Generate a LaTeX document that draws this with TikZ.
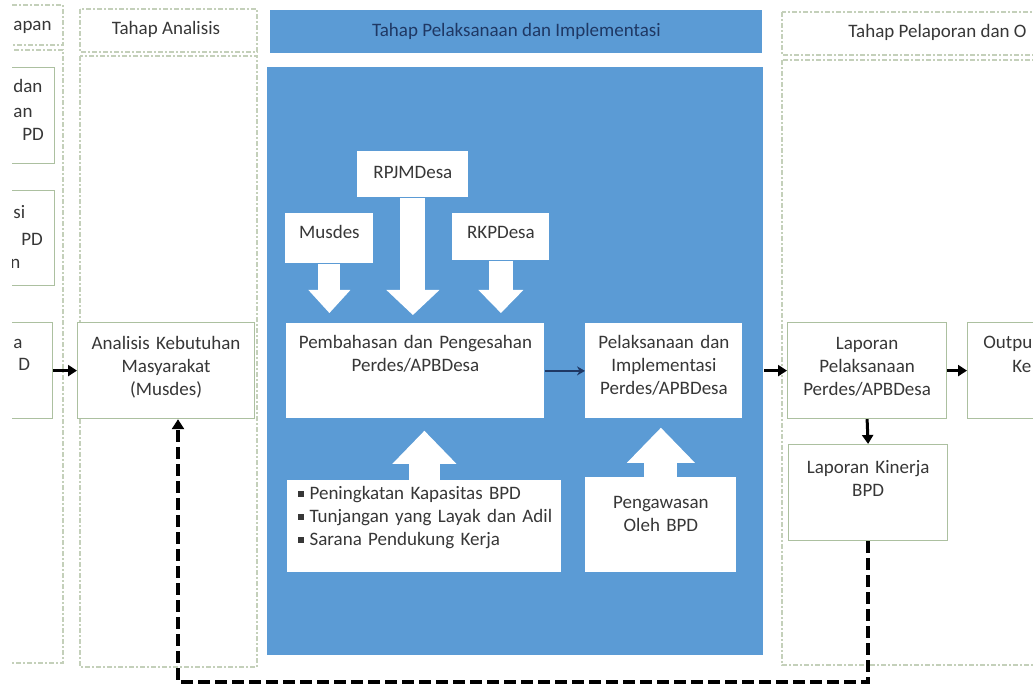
\documentclass[tikz,border=0pt]{standalone}
\usepackage{fontspec}
\setmainfont{Carlito}
\usepackage{tikz}
\usetikzlibrary{arrows.meta, positioning}
\definecolor{BB}{RGB}{91, 155, 213}
\definecolor{NN}{RGB}{31, 56, 100}
\definecolor{TT}{RGB}{55, 55, 55}
\definecolor{GG}{RGB}{172, 192, 160}
\definecolor{FF}{RGB}{196, 208, 186}
\newcommand{\sqbul}{\rule[1.4pt]{2.6pt}{2.6pt}\hspace{3pt}}
\tikzset{
    colframe/.style={draw=FF, line width=0.6pt, dash pattern=on 2.5pt off 1.2pt on 0.6pt off 1.2pt},
    sidebox/.style={rectangle, draw=GG, line width=0.6pt, fill=white, inner sep=0pt, text=TT, align=center},
    whitebox/.style={rectangle, fill=white, inner sep=0pt, text=TT, align=center},
    frag/.style={inner sep=0pt, text=TT, anchor=base west},
    fatarrow/.style n args={3}{draw=white, line width=#1, -{Triangle[width=#2, length=#3, line width=0pt]}},
    flowarrow/.style={line width=1.5pt, -{Triangle[width=5.5pt, length=4.5pt]}},
    thinarrow/.style={draw=NN, line width=0.8pt, -{Stealth[width=4.5pt, length=4pt]}},
    feedback/.style={line width=2pt, dash pattern=on 6pt off 2.5pt, -{Triangle[width=6pt, length=5pt]}},
}

\begin{document}
\begin{tikzpicture}[x=0.5pt, y=-0.5pt, font=\fontsize{9.5}{11.5}\selectfont]
\useasboundingbox (0,0) rectangle (1033,689);
\clip (12,0) rectangle (1033,689);

% kolom tahap
\draw[colframe] (-20,5) rectangle (63,45);
\draw[colframe] (-20,50) rectangle (63,663);
\draw[colframe] (80,9) rectangle (257,52);
\draw[colframe] (80,56) rectangle (257,667);
\draw[colframe] (782,12) rectangle (1060,55);
\draw[colframe] (782,60) rectangle (1060,665);

\node[frag] (prephead) at (13,31) {apan};
\node[text=TT, inner sep=0pt] (anahead) at (166,29) {Tahap Analisis};
\node[frag] (lapohead) at (848,38) {Tahap Pelaporan dan O};

% tahap pelaksanaan (biru)
\node[fill=BB, minimum width=246pt, minimum height=21.5pt, anchor=north west, inner sep=0pt, text=NN] (implhead) at (270,10) {Tahap Pelaksanaan dan Implementasi};
\node[fill=BB, minimum width=248pt, minimum height=294pt, anchor=north west, inner sep=0pt] (implbody) at (267,67) {};

% kolom kiri (terpotong)
\node[sidebox, minimum width=50pt, minimum height=48pt, anchor=north east] (lbox1) at (55,67) {};
\node[frag] (lbox1a) at (13,93) {dan};
\node[frag] (lbox1b) at (13,118) {an};
\node[frag] (lbox1c) at (22,141) {PD};
\node[sidebox, minimum width=50pt, minimum height=47.5pt, anchor=north east] (lbox2) at (55,190) {};
\node[frag] (lbox2a) at (13,219) {si};
\node[frag] (lbox2b) at (21,246) {PD};
\node[frag] (lbox2c) at (10,269) {n};
\node[sidebox, minimum width=50pt, minimum height=48pt, anchor=north east] (lbox3) at (53,322) {};
\node[frag] (lbox3a) at (13,349) {a};
\node[frag] (lbox3b) at (18,371) {D};

% analisis
\node[sidebox, text width=88.5pt, text height=13.5pt, text depth=34.5pt, anchor=north west] (analisis) at (77,322) {Analisis Kebutuhan\\Masyarakat\\(Musdes)};

% isi kotak biru
\node[whitebox, text height=13.5pt, text depth=9.5pt, minimum width=55.5pt, anchor=north west] (rpjm) at (357,151) {RPJMDesa};
\node[whitebox, text height=12.5pt, text depth=12.5pt, minimum width=44pt, anchor=north west] (musdes) at (285,213) {Musdes};
\node[whitebox, text height=12.5pt, text depth=11pt, minimum width=48.5pt, anchor=north west] (rkp) at (452,213) {RKPDesa};
\node[whitebox, text width=129pt, text height=12.5pt, text depth=35pt, anchor=north west] (pembahasan) at (286,323) {Pembahasan dan Pengesahan\\Perdes/APBDesa};
\node[whitebox, text width=78.5pt, text height=12.5pt, text depth=35pt, anchor=north west] (pelaksanaan) at (585,323) {Pelaksanaan dan\\Implementasi\\Perdes/APBDesa};
\node[whitebox, align=left, text width=137pt, text height=9.5pt, text depth=36.5pt, anchor=north west] (pendukung) at (287,480) {\hspace*{5.5pt}\sqbul Peningkatan Kapasitas BPD\\\hspace*{5.5pt}\sqbul Tunjangan yang Layak dan Adil\\\hspace*{5.5pt}\sqbul Sarana Pendukung Kerja};
\node[whitebox, text width=75.5pt, text height=15.5pt, text depth=32pt, anchor=north west] (pengawasan) at (585,477) {Pengawasan\\Oleh BPD};

\draw[fatarrow={11pt}{21pt}{11.5pt}] (musdes.south) -- ([yshift=5pt]musdes.south |- pembahasan.north);
\draw[fatarrow={12.5pt}{26.5pt}{12.5pt}] (rpjm.south) -- ([yshift=4pt]rpjm.south |- pembahasan.north);
\draw[fatarrow={12pt}{22.5pt}{11.5pt}] (rkp.south) -- ([yshift=5pt]rkp.south |- pembahasan.north);
\draw[fatarrow={15.5pt}{32pt}{16.5pt}] (pendukung.north) -- ([yshift=-6pt]pendukung.north |- pembahasan.south);
\draw[fatarrow={16.5pt}{34pt}{17.5pt}] (pengawasan.north) -- ([yshift=-4.5pt]pengawasan.north |- pelaksanaan.south);
\draw[thinarrow] (pembahasan.east) -- (pelaksanaan.west);

% pelaporan
\node[sidebox, text width=79.5pt, text height=13.5pt, text depth=34.5pt, anchor=north west] (laporan) at (787,322) {Laporan\\Pelaksanaan\\Perdes/APBDesa};
\node[sidebox, text width=79.5pt, text height=14.5pt, text depth=33.5pt, anchor=north west] (kinerja) at (788,444) {Laporan Kinerja\\BPD};
\node[sidebox, minimum width=50pt, minimum height=48pt, anchor=north west] (outbox) at (967,322) {};
\node[frag] (outboxa) at (983,349) {Outpu};
\node[frag] (outboxb) at (1012,373) {Ke};

\draw[flowarrow] (lbox3.east) -- (analisis.west);
\draw[flowarrow] (laporan.west -| implbody.east) -- (laporan.west);
\draw[flowarrow] (laporan.east) -- (outbox.west);
\draw[flowarrow] (laporan.south) -- (kinerja.north);

% umpan balik
\coordinate (fbturn) at (178,682);
\draw[feedback] (kinerja.south) -- (kinerja.south |- fbturn) -- (fbturn) -- (fbturn |- analisis.south);

\end{tikzpicture}
\end{document}
